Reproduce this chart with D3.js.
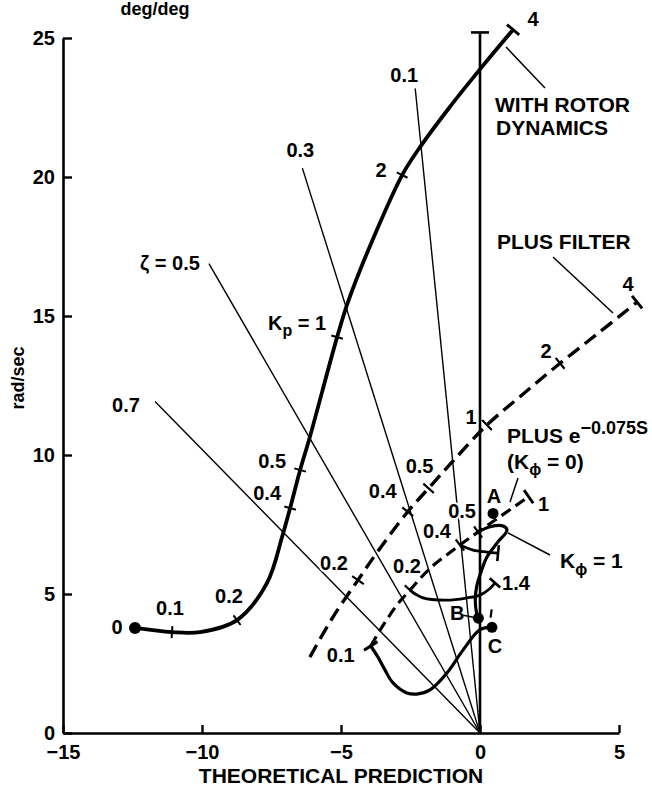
<!DOCTYPE html>
<html>
<head>
<meta charset="utf-8">
<script src="https://cdn.jsdelivr.net/npm/d3@7"></script>
<style>
  body { margin: 0; background: #fff; }
  svg { display: block; }
  text { font-family: "Liberation Sans", Arial, Helvetica, sans-serif; font-weight: bold; fill: #000; }
  .axis text { font-size: 20px; }
  .lbl { font-size: 20px; }
  .call { font-size: 21px; }
</style>
</head>
<body>
<svg id="chart" width="652" height="789"></svg>
<script>
// axis ticks
const xTicks = [-15, -10, -5, 0, 5];
const yTicks = [0, 5, 10, 15, 20, 25];

// constant damping rays from the origin
const rayZeta = [0.1, 0.3, 0.5, 0.7];
const rayLength = [23.3, 21.3, 19.5, 16.7];
const rayLabels = ["0.1", "0.3", "\u03b6 = 0.5", "0.7"];

// upper end of the imaginary axis line
const zeroLineTop = 25.2;

// with rotor dynamics (solid)
const rotorLocus = [[-12.41, 3.78], [-11.08, 3.63], [-10.07, 3.63], [-8.74, 4.06], [-7.66, 5.4],
  [-7.12, 7.05], [-6.83, 8.09], [-6.47, 9.46], [-6.12, 10.65], [-5.14, 14.24], [-4.75, 15.5],
  [-3.88, 17.7], [-2.8, 20.07], [-2.23, 20.97], [-1.1, 22.5], [0.07, 23.96], [1.19, 25.3]];
const rotorTickIdx = [1, 3, 6, 7, 9, 12];
const rotorTickLabels = ["0.1", "0.2", "0.4", "0.5", "K_p = 1", "2"];
const rotorEndLabels = ["0", "4"];

// plus filter (dashed)
const filterLocus = [[-6.12, 2.73], [-5.29, 4.17], [-4.39, 5.5], [-3.7, 6.5], [-2.6, 7.96],
  [-1.85, 8.8], [-1.0, 9.75], [0.25, 11.08], [1.5, 12.15], [2.88, 13.3], [4.3, 14.42], [5.65, 15.5]];
const filterTickIdx = [2, 4, 5, 7, 9];
const filterTickLabels = ["0.2", "0.4", "0.5", "1", "2"];
const filterEndLabel = "4";

// plus e^-0.075s, K_phi = 0 (dashed)
const delayLocus = [[-3.93, 3.13], [-3.5, 3.85], [-2.99, 4.6], [-2.52, 5.14], [-1.8, 5.92],
  [-0.72, 6.76], [-0.07, 7.23], [0.6, 7.7], [1.75, 8.5]];
const delayTickIdx = [3, 5, 6];
const delayTickLabels = ["0.2", "0.4", "0.5"];
const delayEndLabels = ["0.1", "1"];

// K_phi = 1 branches (solid)
const kphiLow = [[-3.93, 3.13], [-3.67, 2.73], [-3.42, 2.27], [-3.13, 1.8], [-2.63, 1.44], [-2.27, 1.4],
  [-1.8, 1.55], [-1.19, 2.16], [-0.6, 3.0], [0, 3.72], [0.43, 3.8]];
const kphiHook = [[-0.07, 7.23], [0.36, 7.42], [0.83, 7.45], [0.97, 7.3], [0.61, 6.83], [0.25, 6.33],
  [0.06, 5.86], [-0.12, 5.27], [-0.17, 4.78], [-0.12, 4.3], [-0.06, 4.13]];
const kp04Branch = [[-0.72, 6.76], [-0.25, 6.58], [0.25, 6.51], [0.65, 6.47]];
const kp02Branch = [[-2.52, 5.14], [-2.05, 4.86], [-1.19, 4.78], [-0.47, 4.86], [0, 4.96], [0.36, 5.2], [0.54, 5.4]];
const kp02EndLabel = "1.4";

// marked points
const pointNames = ["A", "B", "C"];
const pointXY = [[0.47, 7.9], [-0.06, 4.13], [0.43, 3.8]];

// label offsets in px (layout only)
const rotorLabelOff = [[-2, -24], [-8, -24], [-23, -15], [-28, -9], [-40, -14], [-21, -5]];
const rotorEndOff = [[-18, -1], [20, -11]];
const filterLabelOff = [[-24, -17], [-25, -21], [-9, -22], [-16, -8], [-14, -12]];
const filterEndOff = [-9, -18];
const delayLabelOff = [[-3, -24], [-23, -14], [-16, -21]];
const delayEndOff = [[-30, 9], [15, 7]];
const rayLabelOff = [[-11, -14], [-2, -18], [-39, -1], [-29, 4]];
const pointLabelOff = [[1, -17], [-21, -5], [3, 19]];

const svg = d3.select("#chart");
const x = d3.scaleLinear().domain([-15, 5]).range([63, 619]);
const y = d3.scaleLinear().domain([0, 25]).range([733, 38]);

const line = d3.line().x(d => x(d[0])).y(d => y(d[1])).curve(d3.curveCatmullRom.alpha(0.5));

// axes
const gx = svg.append("g").attr("class", "axis")
  .attr("transform", `translate(0,${y(0)})`)
  .call(d3.axisBottom(x).tickValues(xTicks).tickSizeInner(-8).tickSizeOuter(0).tickPadding(12));
const gy = svg.append("g").attr("class", "axis")
  .attr("transform", `translate(${x(-15)},0)`)
  .call(d3.axisLeft(y).tickValues(yTicks).tickSizeInner(-9).tickSizeOuter(0).tickPadding(8));
[gx, gy].forEach(g => {
  g.attr("font-size", null).attr("font-family", null);
  g.select(".domain").attr("stroke-width", 2.6);
  g.selectAll(".tick line").attr("stroke-width", 2.4);
});

svg.append("text").attr("x", 341).attr("y", 783).attr("text-anchor", "middle")
  .style("font-size", "21px").text("THEORETICAL PREDICTION");
svg.append("text").attr("x", 155).attr("y", 15).attr("text-anchor", "middle")
  .style("font-size", "18px").text("deg/deg");
svg.append("text").attr("transform", "translate(24,378) rotate(-90)").attr("text-anchor", "middle")
  .style("font-size", "18px").text("rad/sec");

// damping rays
rayZeta.forEach((z, i) => {
  const ex = -rayLength[i] * z, ey = rayLength[i] * Math.sqrt(1 - z * z);
  svg.append("line")
    .attr("x1", x(0)).attr("y1", y(0)).attr("x2", x(ex)).attr("y2", y(ey))
    .attr("stroke", "#000").attr("stroke-width", 1.4);
  addLabel(x(ex) + rayLabelOff[i][0], y(ey) + rayLabelOff[i][1], rayLabels[i]);
});

// imaginary axis line
svg.append("line").attr("x1", x(0)).attr("y1", y(0)).attr("x2", x(0)).attr("y2", y(zeroLineTop))
  .attr("stroke", "#000").attr("stroke-width", 2.6);
svg.append("line").attr("x1", x(0) - 9).attr("x2", x(0) + 9).attr("y1", y(zeroLineTop)).attr("y2", y(zeroLineTop))
  .attr("stroke", "#000").attr("stroke-width", 2.6);

function drawCurve(pts, width, dash) {
  svg.append("path").datum(pts).attr("d", line)
    .attr("fill", "none").attr("stroke", "#000").attr("stroke-width", width)
    .attr("stroke-dasharray", dash || null).attr("stroke-linejoin", "round");
}

function tickSeg(pts, i, half, width) {
  const p = pts.map(d => [x(d[0]), y(d[1])]);
  const a = p[Math.max(i - 1, 0)], b = p[Math.min(i + 1, p.length - 1)];
  const dx = b[0] - a[0], dy = b[1] - a[1];
  const L = Math.hypot(dx, dy);
  const nx = -dy / L, ny = dx / L, c = p[i];
  svg.append("line")
    .attr("x1", c[0] - nx * half).attr("y1", c[1] - ny * half)
    .attr("x2", c[0] + nx * half).attr("y2", c[1] + ny * half)
    .attr("stroke", "#000").attr("stroke-width", width);
  return c;
}

function addLabel(px, py, str) {
  const t = svg.append("text").attr("class", "lbl").attr("x", px).attr("y", py)
    .attr("text-anchor", "middle").attr("dy", "0.35em")
    .attr("stroke", "#fff").attr("stroke-width", 4).attr("stroke-linejoin", "round")
    .attr("paint-order", "stroke");
  const m = str.match(/^(.*)_(.)(.*)$/);
  if (m) {
    t.append("tspan").text(m[1]);
    t.append("tspan").attr("dy", 6).style("font-size", "16px").text(m[2]);
    t.append("tspan").attr("dy", -6).text(m[3]);
  } else {
    t.text(str);
  }
  return t;
}

// rotor locus
drawCurve(rotorLocus, 3.8);
rotorTickIdx.forEach((k, i) => {
  const c = tickSeg(rotorLocus, k, 6, 2);
  addLabel(c[0] + rotorLabelOff[i][0], c[1] + rotorLabelOff[i][1], rotorTickLabels[i]);
});
{
  const s = [x(rotorLocus[0][0]), y(rotorLocus[0][1])];
  svg.append("circle").attr("cx", s[0]).attr("cy", s[1]).attr("r", 6);
  addLabel(s[0] + rotorEndOff[0][0], s[1] + rotorEndOff[0][1], rotorEndLabels[0]);
  const e = tickSeg(rotorLocus, rotorLocus.length - 1, 8, 3);
  addLabel(e[0] + rotorEndOff[1][0], e[1] + rotorEndOff[1][1], rotorEndLabels[1]);
}

// plus filter locus
drawCurve(filterLocus, 3.4, "14,7");
filterTickIdx.forEach((k, i) => {
  const c = tickSeg(filterLocus, k, 7, 2.2);
  addLabel(c[0] + filterLabelOff[i][0], c[1] + filterLabelOff[i][1], filterTickLabels[i]);
});
{
  const e = tickSeg(filterLocus, filterLocus.length - 1, 8, 3);
  addLabel(e[0] + filterEndOff[0], e[1] + filterEndOff[1], filterEndLabel);
}

// delay locus
drawCurve(delayLocus, 3.2, "11,6");
delayTickIdx.forEach((k, i) => {
  const c = tickSeg(delayLocus, k, 7, 2.2);
  addLabel(c[0] + delayLabelOff[i][0], c[1] + delayLabelOff[i][1], delayTickLabels[i]);
});
{
  const e = tickSeg(delayLocus, delayLocus.length - 1, 8, 3);
  addLabel(e[0] + delayEndOff[1][0], e[1] + delayEndOff[1][1], delayEndLabels[1]);
}

// K_phi branches
drawCurve(kphiLow, 3.2);
drawCurve(kphiHook, 3.2);
drawCurve(kp04Branch, 2.8);
drawCurve(kp02Branch, 2.8);
{
  const s = tickSeg(kphiLow, 0, 8, 3);
  addLabel(s[0] + delayEndOff[0][0], s[1] + delayEndOff[0][1], delayEndLabels[0]);
  tickSeg(kp04Branch, kp04Branch.length - 1, 8, 2.6);
  const e = tickSeg(kp02Branch, kp02Branch.length - 1, 7, 2.6);
  addLabel(e[0] + 21, e[1], kp02EndLabel);
}

// marked points
pointXY.forEach((d, i) => {
  const cx = x(d[0]), cy = y(d[1]);
  svg.append("circle").attr("cx", cx).attr("cy", cy).attr("r", 5.5);
  addLabel(cx + pointLabelOff[i][0], cy + pointLabelOff[i][1], pointNames[i]);
  if (pointNames[i] === "B") {
    svg.append("line").attr("x1", cx - 15).attr("y1", cy - 3).attr("x2", cx - 5).attr("y2", cy - 1)
      .attr("stroke", "#000").attr("stroke-width", 1.5);
  }
});
svg.append("path").attr("d", `M${x(0.38)},${y(4.15)}L${x(0.42)},${y(4.45)}`)
  .attr("stroke", "#000").attr("stroke-width", 2.2);

// callouts
function leader(x1, y1, x2, y2) {
  svg.append("line").attr("x1", x1).attr("y1", y1).attr("x2", x2).attr("y2", y2)
    .attr("stroke", "#000").attr("stroke-width", 1.5);
}
leader(506, 47, 545, 88);
svg.append("text").attr("class", "call").attr("x", 495).attr("y", 112).text("WITH ROTOR");
svg.append("text").attr("class", "call").attr("x", 496).attr("y", 135).text("DYNAMICS");

leader(553, 257, 613, 313);
svg.append("text").attr("class", "call").attr("x", 497).attr("y", 249).text("PLUS FILTER");

{
  const t = svg.append("text").attr("class", "call").attr("x", 507).attr("y", 443);
  t.append("tspan").text("PLUS e");
  t.append("tspan").attr("dy", -9).style("font-size", "18px").text("\u22120.075S");
  const t2 = svg.append("text").attr("class", "call").attr("x", 507).attr("y", 469);
  t2.append("tspan").text("(K");
  t2.append("tspan").attr("dy", 6).style("font-size", "16px").text("\u03d5");
  t2.append("tspan").attr("dy", -6).text(" = 0)");
  leader(518, 478, 510, 502);
}
{
  leader(508, 533, 550, 555);
  const t = svg.append("text").attr("class", "call").attr("x", 560).attr("y", 568);
  t.append("tspan").text("K");
  t.append("tspan").attr("dy", 7).style("font-size", "16px").text("\u03d5");
  t.append("tspan").attr("dy", -7).text(" = 1");
}
</script>
</body>
</html>
